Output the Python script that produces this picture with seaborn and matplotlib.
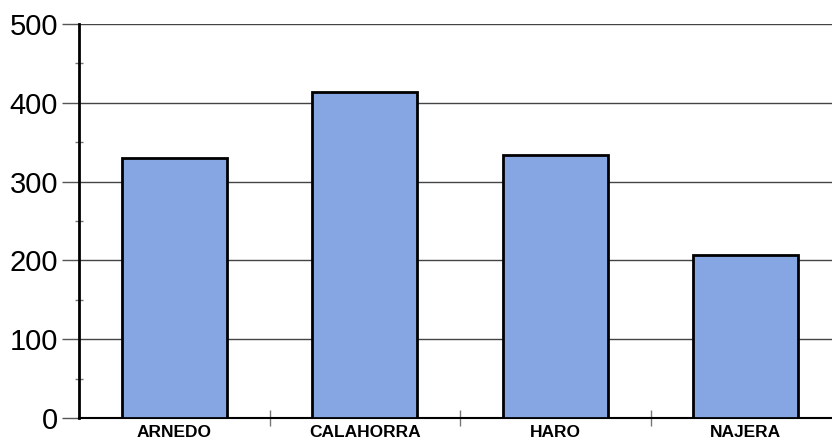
import matplotlib
matplotlib.use("Agg")
import matplotlib.pyplot as plt
import seaborn as sns
from matplotlib.ticker import MultipleLocator, FixedLocator

towns = ["ARNEDO", "CALAHORRA", "HARO", "NAJERA"]
counts = [330, 414, 334, 207]
y_ticks = [0, 100, 200, 300, 400, 500]

sns.set_style("white")
plt.rcParams["font.family"] = ["Liberation Sans", "DejaVu Sans"]
plt.rcParams["text.color"] = "black"
plt.rcParams["xtick.labelcolor"] = "black"
plt.rcParams["ytick.labelcolor"] = "black"

fig = plt.figure(figsize=(8.32, 4.46), dpi=100)
ax = fig.add_axes([0.095, 0.063, 0.916, 0.883])

sns.barplot(x=towns, y=counts, color="#86a5e3", saturation=1,
            edgecolor="black", linewidth=2, width=0.55, ax=ax, zorder=3)

ax.set_ylim(0, 500)
ax.set_xlim(-0.5, len(towns) - 0.5)
ax.set_yticks(y_ticks)
ax.yaxis.set_minor_locator(MultipleLocator(50))
ax.grid(axis="y", color="#444444", linewidth=1, zorder=0)
ax.set_axisbelow(True)

for side in ["top", "right"]:
    ax.spines[side].set_visible(False)
ax.spines["left"].set_linewidth(2)
ax.spines["bottom"].set_linewidth(1.5)
ax.spines["left"].set_color("black")
ax.spines["bottom"].set_color("black")

ax.tick_params(axis="y", which="major", direction="out", length=12,
               width=1, color="#555555", labelsize=21, pad=3, left=True)
ax.tick_params(axis="y", which="minor", direction="inout", length=6,
               width=1, color="#777777", left=True)
ax.tick_params(axis="x", which="major", length=0, labelsize=12.5, pad=5)
ax.xaxis.set_minor_locator(FixedLocator([0.5, 1.5, 2.5]))
ax.tick_params(axis="x", which="minor", direction="inout", length=12,
               width=1, color="#777777", bottom=True)
for lab in ax.get_xticklabels():
    lab.set_fontweight("bold")

fig.savefig("out.png", dpi=100)
